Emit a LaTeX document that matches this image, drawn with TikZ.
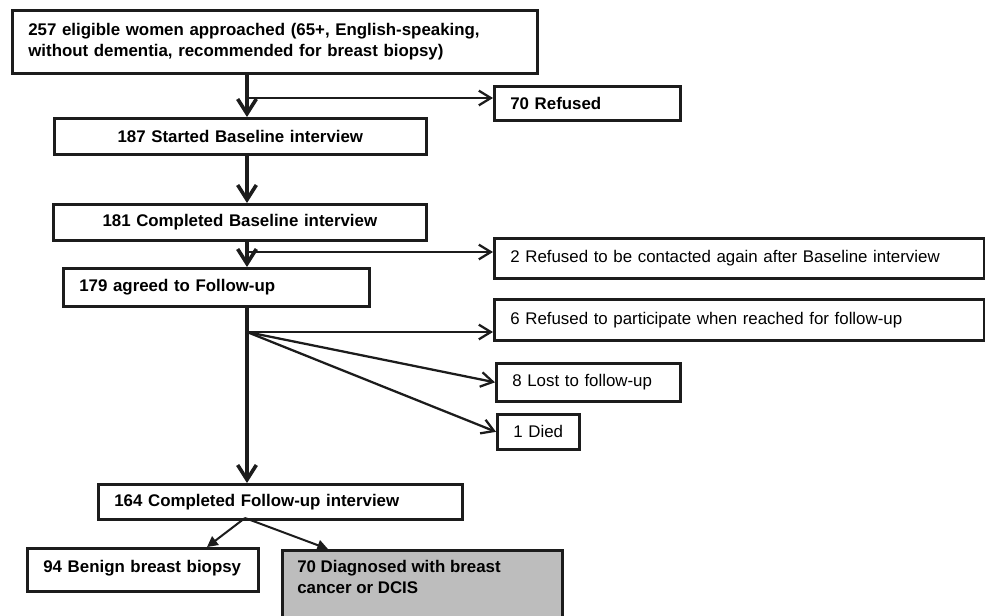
\documentclass[tikz,border=0pt]{standalone}
\usepackage{fontspec}
\setmainfont{Liberation Sans}
\usetikzlibrary{arrows.meta}
\definecolor{ink}{RGB}{28,28,28}
\definecolor{shade}{RGB}{189,189,189}
\begin{document}
\begin{tikzpicture}[x=0.75pt,y=-0.75pt,
  regtxt/.style={font=\fontsize{12.65pt}{15.75pt}\selectfont},
  boldtxt/.style={font=\fontsize{12.65pt}{15.75pt}\selectfont\bfseries},
  box/.style={draw=ink, line width=2pt, rectangle, inner ysep=0pt, inner xsep=12pt, anchor=north west, fill=white},
  lbox/.style={box, align=left},
  cbox/.style={box, align=center},
  main/.style={draw=ink, line width=2.7pt, -{Straight Barb[length=11pt,width=14pt]}},
  side/.style={draw=ink, line width=1.7pt, -{Straight Barb[length=9pt,width=11pt]}},
  fork/.style={draw=ink, line width=1.5pt, -{Triangle[length=8pt,width=8pt]}}
]
\useasboundingbox (0,0) rectangle (985,615);
\clip (0,0) rectangle (985,615);

% boxes
\node[lbox, boldtxt, text width=369.75pt, minimum width=393.75pt, minimum height=47.25pt] (b1) at (11,9)
  {257 eligible women approached (65+, English-speaking,\\without dementia, recommended for breast biopsy)};
\node[lbox, boldtxt, text width=115.5pt, minimum width=139.5pt, minimum height=25.5pt] (r70) at (493,85) {70 Refused};
\node[cbox, boldtxt, text width=255pt, minimum width=279pt, minimum height=27pt] (b2) at (53,117) {187 Started Baseline interview};
\node[cbox, boldtxt, text width=255.75pt, minimum width=279.75pt, minimum height=27pt] (b3) at (52,203) {181 Completed Baseline interview};
\node[lbox, regtxt, text width=343.5pt, minimum width=367.5pt, minimum height=30pt] (r2) at (493,237) {2 Refused to be contacted again after Baseline interview};
\node[lbox, boldtxt, text width=205.5pt, minimum width=229.5pt, minimum height=28.5pt] (b4) at (62,267) {179 agreed to Follow-up};
\node[lbox, regtxt, text width=343.5pt, minimum width=367.5pt, minimum height=30.75pt] (r6) at (493,298) {6 Refused to participate when reached for follow-up};
\node[lbox, regtxt, text width=114pt, minimum width=138pt, minimum height=28.5pt] (r8) at (495,362) {8 Lost to follow-up};
\node[lbox, regtxt, text width=37.5pt, minimum width=61.5pt, minimum height=26.25pt] (r1) at (496,413) {\mbox{1 Died}};
\node[lbox, boldtxt, text width=249pt, minimum width=273pt, minimum height=26.25pt] (b5) at (97,483) {164 Completed Follow-up interview};
\node[lbox, boldtxt, text width=149.25pt, minimum width=173.25pt, minimum height=32.25pt, text depth=5pt] (b94) at (26,547) {\mbox{94 Benign breast biopsy}};
\node[box, fill=shade, minimum width=210pt, minimum height=60.75pt] (dx) at (281,549) {};
\node[boldtxt, align=left, inner sep=0pt, anchor=north west] (dxt) at (297,560) {70 Diagnosed with breast\\cancer or DCIS};

% spine and junctions
\coordinate (sp) at (247,0);
\coordinate (j1) at (247,98);
\coordinate (j2) at (247,252);
\coordinate (j3) at (247,332);
\coordinate (j4) at (245,518);
\coordinate (t94) at (207,547);
\coordinate (t70) at (328,549);

% main flow
\draw[main] (b1.south -| sp) -- (b2.north -| sp);
\draw[main] (b2.south -| sp) -- (b3.north -| sp);
\draw[main] (b3.south -| sp) -- (b4.north -| sp);
\draw[main] (b4.south -| sp) -- (b5.north -| sp);

% side exits
\draw[side] (j1) -- (j1 -| r70.west);
\draw[side] (j2) -- (j2 -| r2.west);
\draw[side] (j3) -- (j3 -| r6.west);
\draw[side] (j3) -- (r8.west);
\draw[side] (j3) -- (r1.west);

% outcomes
\draw[fork] (j4) -- (t94);
\draw[fork] (j4) -- (t70);
\end{tikzpicture}
\end{document}
